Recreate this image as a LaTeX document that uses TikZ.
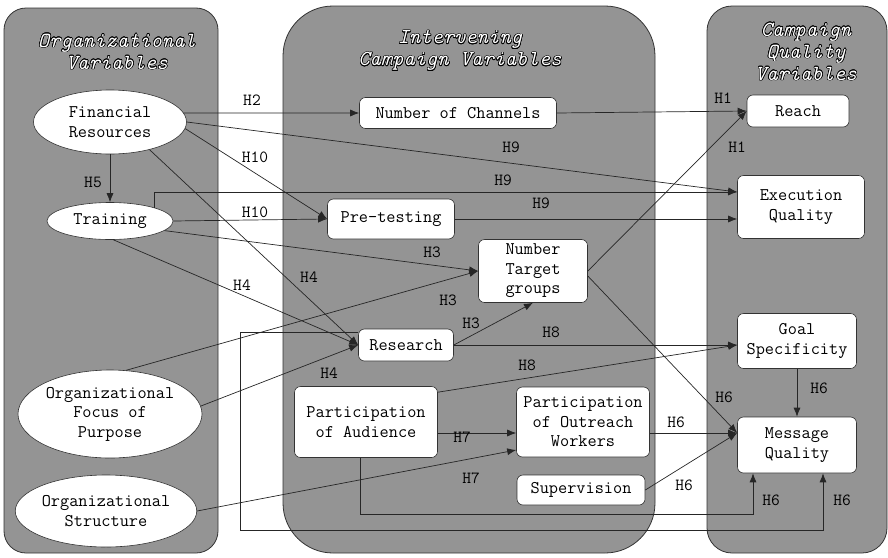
\documentclass[tikz,border=0pt]{standalone}
\usepackage{fontspec}
\usepackage{contour}
\contourlength{0.6pt}
\usetikzlibrary{shapes.geometric,arrows.meta}

\begin{document}
\begin{tikzpicture}[x=1pt,y=-1pt,
    font=\ttfamily\fontsize{17.8}{19.5}\selectfont,
    panel/.style={fill=black!42, draw=black!80, line width=0.8pt},
    var/.style={draw=black!80, fill=white, rounded corners=6pt, align=center, inner sep=0pt, line width=0.6pt},
    orgvar/.style={ellipse, draw=black!80, fill=white, align=center, inner sep=0pt, line width=0.6pt},
    title/.style={align=center, text=white, font=\ttfamily\fontsize{21.5}{22}\selectfont\itshape},
    hyp/.style={inner sep=1pt, font=\ttfamily\fontsize{17}{17}\selectfont},
    link/.style={draw=black!85, line width=0.7pt, -{Latex[length=9pt,width=7pt]}}]

\useasboundingbox (0,0) rectangle (888,557);

% the three groups of variables
\draw[panel, rounded corners=22pt] (4,8) rectangle (218,553);
\draw[panel, rounded corners=50pt] (283,6) rectangle (655,553);
\draw[panel, rounded corners=25pt] (707,6) rectangle (887,553);

\node[title] (orgtitle) at (117,52) {\contour{black}{Organizational}\\\contour{black}{Variables}};
\node[title] (camptitle) at (460,51) {\contour{black}{Intervening}\\\contour{black}{Campaign Variables}};
\node[title] (qualtitle) at (806,52) {\contour{black}{Campaign}\\\contour{black}{Quality}\\\contour{black}{Variables}};

% organizational variables
\node[orgvar, minimum width=153pt, minimum height=64pt] (finres) at (110,122) {Financial\\Resources};
\node[orgvar, minimum width=126pt, minimum height=37pt] (train) at (110,221) {Training};
\node[orgvar, minimum width=184pt, minimum height=88pt] (focus) at (110,414) {Organizational\\Focus of\\Purpose};
\node[orgvar, minimum width=175pt, minimum height=72pt] (struct) at (106,511) {Organizational\\Structure};

% intervening campaign variables
\node[var, minimum width=197pt, minimum height=31pt] (numch) at (458,113) {Number of Channels};
\node[var, minimum width=127pt, minimum height=40pt] (pretest) at (391,219) {Pre-testing};
\node[var, minimum width=109pt, minimum height=63pt] (ntg) at (533,271) {Number\\Target\\groups};
\node[var, minimum width=95pt, minimum height=32pt] (research) at (406,345) {Research};
\node[var, minimum width=143pt, minimum height=71pt] (partaud) at (366,422) {Participation\\of Audience};
\node[var, minimum width=133pt, minimum height=70pt] (pow) at (583,422) {Participation\\of Outreach\\Workers};
\node[var, minimum width=128pt, minimum height=30pt] (superv) at (581,490) {Supervision};

% campaign quality variables
\node[var, minimum width=102pt, minimum height=32pt] (reach) at (798,111) {Reach};
\node[var, minimum width=127pt, minimum height=63pt] (exec) at (801,207) {Execution\\Quality};
\node[var, minimum width=119pt, minimum height=55pt] (goal) at (797,341) {Goal\\Specificity};
\node[var, minimum width=119pt, minimum height=56pt] (msg) at (797,445) {Message\\Quality};

% where the arrows meet the boxes
\coordinate (exechi) at ([yshift=15pt]exec.west);
\coordinate (execlo) at (pretest.east -| exec.west);
\coordinate (goalin) at (research.east -| goal.west);
\coordinate (audtop) at ([yshift=-6pt]partaud.north east);
\coordinate (audout) at ([yshift=-11pt]partaud.east);
\coordinate (powmid) at ([yshift=-11pt]pow.west);
\coordinate (powlo) at ([yshift=-28pt]pow.west);
\coordinate (powout) at ([yshift=-11pt]pow.east);
\coordinate (ntglow) at ([yshift=-5pt]ntg.east);
\coordinate (msgin) at ([yshift=12pt]msg.west);
\coordinate (audloop) at (753,514);
\coordinate (resloop) at (240,530);
\coordinate (resturn) at (823,530);

\foreach \from/\to in {finres.south/train.north, finres.7/numch.west, numch.east/reach.west,
    ntg.east/reach.west, finres.east/exechi, pretest.east/execlo, finres.-5/pretest.west,
    train.east/pretest.west, train.-10/ntg.west, focus.70/ntg.west, research.east/ntg.south,
    finres.-35/research.west, train.-80/research.west, focus.5/research.west,
    research.east/goalin, audtop/goalin, audout/powmid, struct.east/powlo,
    ntglow/msgin, powout/msgin, superv.east/msgin, goal.south/msg.north}
  \draw[link] (\from) -- (\to);

\draw[link] (train.north east) |- (exechi);
\draw[link] ([xshift=-6pt]partaud.south) |- (audloop) -- (audloop |- msg.south);
\draw[link] ([yshift=-4pt]research.north west) -| (resloop) -- (resturn) -- (resturn |- msg.south);

% hypotheses
\foreach \x/\y/\t [count=\i] in {252/100/H2, 93/182/H5, 255/157/H10, 255/212/H10,
    511/147/H9, 503/180/H9, 541/203/H9, 723/98/H1, 737/147/H1,
    432/252/H3, 448/300/H3, 471/323/H3, 309/277/H4, 242/285/H4, 329/373/H4,
    551/332/H8, 527/365/H8, 462/437/H7, 471/478/H7,
    724/397/H6, 676/422/H6, 684/485/H6, 819/388/H6, 771/500/H6, 842/500/H6}
  \node[hyp] (hyp\i) at (\x,\y) {\t};

\end{tikzpicture}
\end{document}
